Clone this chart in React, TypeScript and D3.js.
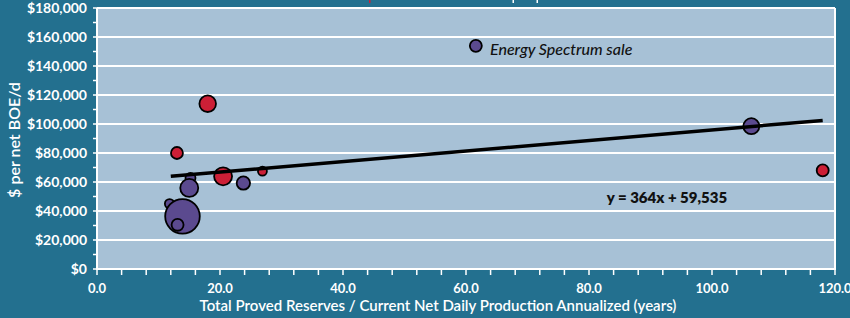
import React from "react";
import * as d3 from "d3";

const xValues = [13.0, 18.0, 15.0, 15.2, 20.5, 23.8, 26.9, 11.8, 13.9, 13.1, 61.6, 106.4, 118.0];
const yValues = [80000, 114000, 55900, 62800, 63900, 59300, 67500, 45000, 36300, 30500, 153900, 98500, 68000];
const sizes = [36, 69, 81, 25, 81, 45, 20, 22, 300, 36, 36, 64, 36];
const groups = ["red", "red", "purple", "purple", "red", "purple", "red", "purple", "purple", "purple", "purple", "purple", "red"];
const drawOrder = [0, 1, 3, 2, 4, 5, 6, 7, 8, 9, 10, 11, 12];

const xTicks = [0, 20, 40, 60, 80, 100, 120];
const yTicks = [0, 20000, 40000, 60000, 80000, 100000, 120000, 140000, 160000, 180000];
const slope = 364;
const intercept = 59535;
const fitRange = [12, 118];

const xTitle = "Total Proved Reserves / Current Net Daily Production Annualized (years)";
const yTitle = "$ per net BOE/d";
const annotation = "Energy Spectrum sale";
const equation = "y = 364x + 59,535";

const W = 850, H = 318;
const L = 97, R = 835, T = 8, B = 269;
const FONT = "Lato, 'Open Sans', sans-serif";
const BG = "#23708f";
const PLOT = "#a7c1d6";
const COLORS: Record<string, string> = { red: "#cc1f36", purple: "#5b4a8f" };

export default function App() {
  const x = d3.scaleLinear().domain([0, 120]).range([L, R]);
  const y = d3.scaleLinear().domain([0, 180000]).range([B, T]);
  const r = d3.scaleSqrt().domain([0, 300]).range([0, 17.3]);
  const minorX = d3.range(0, 120.01, 4);
  const minorY = d3.range(0, 180001, 10000);
  const fmt = (v: number) => "$" + d3.format(",")(v);
  const line = d3.line<number>().x((d) => x(d)).y((d) => y(slope * d + intercept));

  return (
    <svg width={W} height={H} style={{ position: "absolute", left: 0, top: 0 }} fontFamily={FONT}>
      <rect x={0} y={0} width={W} height={H} fill={BG} />
      {/* cut-off title fragments */}
      <rect x={369} y={0} width={1.5} height={3} fill="#cc1f36" />
      <rect x={512.5} y={0} width={1.5} height={3} fill="#ffffff" />
      <rect x={536.5} y={0} width={1.5} height={3} fill="#ffffff" />
      <rect x={L} y={T} width={R - L} height={B - T} fill={PLOT} />
      {yTicks.map((t) => (
        <line key={"g" + t} x1={L} x2={R} y1={y(t)} y2={y(t)} stroke="#ffffff" strokeWidth={2} />
      ))}
      <line x1={R} x2={R} y1={T} y2={B} stroke="#ffffff" strokeWidth={2} />
      <line x1={L} x2={L} y1={T} y2={B + 1} stroke="#ffffff" strokeWidth={2} />
      <line x1={L} x2={R + 1} y1={B} y2={B} stroke="#ffffff" strokeWidth={2} />
      {minorY.map((t) => (
        <line key={"my" + t} x1={L - 4} x2={L} y1={y(t)} y2={y(t)} stroke="#ffffff" strokeWidth={1.5} />
      ))}
      {minorX.map((t) => (
        <line key={"mx" + t} x1={x(t)} x2={x(t)} y1={B} y2={B + 6} stroke="#ffffff" strokeWidth={1.5} />
      ))}
      {yTicks.map((t) => (
        <text key={"yl" + t} x={L - 10} y={y(t)} dy="0.36em" textAnchor="end" fill="#ffffff" fontSize={14} fontWeight={700}>
          {fmt(t)}
        </text>
      ))}
      {xTicks.map((t) => (
        <text key={"xl" + t} x={x(t)} y={293} textAnchor="middle" fill="#ffffff" fontSize={13} fontWeight={700}>
          {d3.format(".1f")(t)}
        </text>
      ))}
      <text x={438} y={311} textAnchor="middle" fill="#ffffff" fontSize={15} fontWeight={600}>
        {xTitle}
      </text>
      <text transform={`translate(20,140) rotate(-90)`} textAnchor="middle" fill="#ffffff" fontSize={16} fontWeight={600}>
        {yTitle}
      </text>
      {drawOrder.map((i) => (
        <circle
          key={"c" + i}
          cx={x(xValues[i])}
          cy={y(yValues[i])}
          r={r(sizes[i])}
          fill={COLORS[groups[i]]}
          stroke="#000000"
          strokeWidth={1.8}
        />
      ))}
      <path d={line(fitRange) || ""} stroke="#000000" strokeWidth={3.5} fill="none" />
      <text x={490} y={55} fill="#111111" fontSize={16} fontStyle="italic" fontWeight={500}>
        {annotation}
      </text>
      <text x={667} y={203} textAnchor="middle" fill="#111111" fontSize={15} fontWeight={800}>
        {equation}
      </text>
    </svg>
  );
}
